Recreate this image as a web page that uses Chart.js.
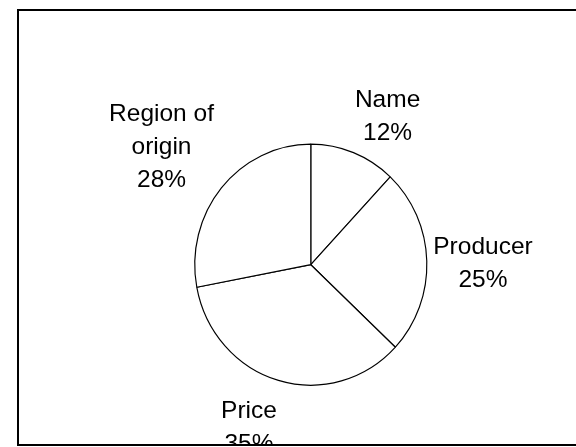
<!DOCTYPE html>
<html>
<head>
<meta charset="utf-8">
<script src="https://cdn.jsdelivr.net/npm/chart.js@4"></script>
<style>
  html, body { margin: 0; padding: 0; background: #fff; }
  #wrap { width: 576px; height: 447px; }
</style>
</head>
<body>
<div id="wrap"><canvas id="c" width="576" height="447"></canvas></div>
<script>
// ---- data ----
const categories = ['Name', 'Producer', 'Price', 'Region of origin'];
const labelLines = [['Name'], ['Producer'], ['Price'], ['Region of', 'origin']];
const values = [12, 25, 35, 28];

// ---- layout / style (not data) ----
const labelLayout = [
  { dA: 5.6, f: 1.394 },
  { dA: 0.8, f: 1.429 },
  { dA: 4.8, f: 1.431 },
  { dA: -1.05, f: 1.584 }
];
const FONT = '24.5px "Liberation Sans", Arial, sans-serif';
const LINE_H = 33;

const framePlugin = {
  id: 'frame',
  beforeDraw(chart) {
    const ctx = chart.ctx;
    ctx.save();
    ctx.fillStyle = '#fff';
    ctx.fillRect(0, 0, chart.width, chart.height);
    ctx.strokeStyle = '#000';
    ctx.lineWidth = 2;
    ctx.strokeRect(18, 10, 620, 435);
    ctx.restore();
  }
};

const squeezePlugin = {
  id: 'squeeze',
  beforeDatasetsDraw(chart) {
    const meta = chart.getDatasetMeta(0);
    const cx = meta.data[0].x;
    const ctx = chart.ctx;
    ctx.save();
    ctx.translate(cx, 0);
    ctx.scale(0.963, 1);
    ctx.translate(-cx, 0);
  },
  afterDatasetsDraw(chart) {
    chart.ctx.restore();
  }
};

const labelPlugin = {
  id: 'pieLabels',
  afterDraw(chart) {
    const ctx = chart.ctx;
    const meta = chart.getDatasetMeta(0);
    const data = chart.data.datasets[0].data;
    ctx.save();
    ctx.beginPath();
    ctx.rect(19, 11, 620, 433);
    ctx.clip();
    ctx.font = FONT;
    ctx.fillStyle = '#000';
    ctx.textAlign = 'center';
    ctx.textBaseline = 'alphabetic';
    meta.data.forEach((arc, i) => {
      const p = arc.getProps(['x', 'y', 'startAngle', 'endAngle', 'outerRadius'], true);
      const mid = (p.startAngle + p.endAngle) / 2 + labelLayout[i].dA * Math.PI / 180;
      const d = p.outerRadius * labelLayout[i].f;
      const lx = p.x + Math.cos(mid) * d;
      const ly = p.y + Math.sin(mid) * d;
      const lines = labelLines[i].concat([data[i] + '%']);
      const n = lines.length;
      lines.forEach((t, k) => {
        const by = ly + (k - (n - 1) / 2) * LINE_H + 8.5;
        ctx.fillText(t, lx, by);
      });
    });
    ctx.restore();
  }
};

new Chart(document.getElementById('c'), {
  type: 'pie',
  data: {
    labels: categories,
    datasets: [{
      data: values,
      backgroundColor: '#ffffff',
      borderColor: '#000000',
      borderWidth: 1.2,
      radius: 120.5
    }]
  },
  options: {
    responsive: false,
    animation: false,
    devicePixelRatio: 1,
    layout: { padding: { left: 190, right: 144.4, top: 144, bottom: 61.6 } },
    plugins: {
      legend: { display: false },
      tooltip: { enabled: false }
    }
  },
  plugins: [framePlugin, squeezePlugin, labelPlugin]
});
</script>
</body>
</html>
